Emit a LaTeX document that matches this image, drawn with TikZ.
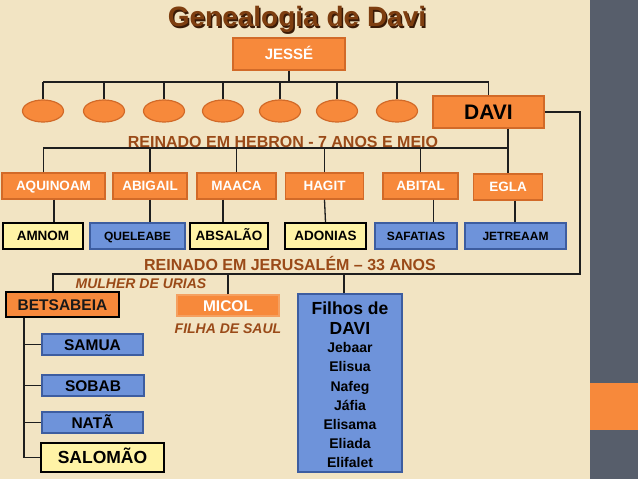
\documentclass[tikz,border=0pt]{standalone}
\usepackage{fontspec}
\setmainfont{Liberation Sans}
\usetikzlibrary{shapes.geometric}
\definecolor{bg}{HTML}{F2E4C3}
\definecolor{panel}{HTML}{575E6B}
\definecolor{orf}{HTML}{F7893B}
\definecolor{ord}{HTML}{D26A28}
\definecolor{orl}{HTML}{F5A060}
\definecolor{blf}{HTML}{6E93DA}
\definecolor{bld}{HTML}{3D5DA0}
\definecolor{ylf}{HTML}{FFF3A6}
\definecolor{brn}{HTML}{9A4A18}
\definecolor{ttl}{HTML}{7E3E10}
\definecolor{ttls}{HTML}{3A1A06}
\definecolor{ln}{HTML}{1E1E1E}
\tikzset{
  conn/.style={draw=ln, line width=1.3pt},
  bx/.style={rectangle, inner sep=0pt, text depth=0pt, line width=1.2pt},
  orbox/.style={bx, fill=orf, draw=ord, text=white},
  blbox/.style={bx, fill=blf, draw=bld, text=black},
  ylbox/.style={bx, fill=ylf, draw=black, line width=1.6pt, text=black},
  oval/.style={ellipse, fill=orf, draw=ord, line width=1.2pt, minimum width=41pt, minimum height=22pt, inner sep=0pt},
  fA/.style={font=\fontsize{13.5}{14}\selectfont\bfseries, text height=9.7pt},
  fB/.style={font=\fontsize{12}{13}\selectfont\bfseries, text height=8.6pt},
  fC/.style={font=\fontsize{15.5}{16}\selectfont\bfseries, text height=11.1pt},
  fD/.style={font=\fontsize{17.5}{18}\selectfont\bfseries, text height=12.5pt},
  lbl/.style={anchor=base, inner sep=0pt, text=brn, font=\fontsize{16}{16}\selectfont\bfseries},
  ilbl/.style={anchor=base, inner sep=0pt, text=brn, font=\fontsize{14}{14}\selectfont\bfseries\itshape},
  nm/.style={anchor=base, inner sep=0pt, text=black, font=\fontsize{14}{14}\selectfont\bfseries},
}
\begin{document}
\begin{tikzpicture}[x=1pt, y=-1pt]
\useasboundingbox (0,0) rectangle (638,479);
\fill[bg] (0,0) rectangle (638,479);
\fill[panel] (590,0) rectangle (638,479);
\fill[orf] (590,383) rectangle (638,430);

% title
\node[text=ttls, font=\fontsize{28}{28}\selectfont\bfseries, anchor=base, inner sep=0pt] (titles) at (298.5,28.5) {Genealogia de Davi};
\node[text=ttl, font=\fontsize{28}{28}\selectfont\bfseries, anchor=base, inner sep=0pt] (title) at (297,27) {Genealogia de Davi};

% Jesse and sons
\node[orbox, minimum width=112pt, minimum height=32pt, font=\fontsize{15}{15}\selectfont\bfseries, text height=10.7pt] (jesse) at (289,54) {JESSÉ};
\foreach \i/\x in {1/43,2/104,3/164,4/223,5/280,6/337,7/397}{
  \node[oval] (e\i) at (\x,111) {};
}
\node[orbox, minimum width=111pt, minimum height=32pt, font=\fontsize{21}{21}\selectfont\bfseries, text height=15pt, text=black] (davi) at (488.5,112) {DAVI};
\coordinate (jbar) at (289,82);
\draw[conn] (jesse.south) -- (jbar);
\draw[conn] (e1.north |- jbar) -- (davi.north |- jbar);
\foreach \i in {1,...,7}{\draw[conn] (e\i.north) -- (e\i.north |- jbar);}
\draw[conn] (davi.north) -- (davi.north |- jbar);

% wives (Hebron)
\node[orbox, fA, minimum width=103pt, minimum height=26pt] (aquinoam) at (53.5,186) {AQUINOAM};
\node[orbox, fA, minimum width=74pt, minimum height=26pt] (abigail) at (150,186) {ABIGAIL};
\node[orbox, fA, minimum width=79pt, minimum height=26pt] (maaca) at (236.5,186) {MAACA};
\node[orbox, fA, minimum width=78pt, minimum height=26pt] (hagit) at (324.5,186) {HAGIT};
\node[orbox, fA, minimum width=75pt, minimum height=26pt] (abital) at (420.5,186) {ABITAL};
\node[orbox, fA, minimum width=69pt, minimum height=26pt] (egla) at (508,187) {EGLA};

\coordinate (dv) at (508,148);
\coordinate (xa) at (43.5,0);
\draw[conn] (davi.south -| dv) -- (egla.north -| dv);
\draw[conn] (aquinoam.north -| xa) -- (xa |- dv) -- (dv);
\foreach \w in {abigail,maaca,hagit,abital}{\draw[conn] (\w.north) -- (\w.north |- dv);}

\node[lbl] (hebron) at (283,147.5) {REINADO EM HEBRON - 7 ANOS E MEIO};

% children (Hebron)
\node[ylbox, fA, minimum width=80pt, minimum height=26pt] (amnom) at (43,236) {AMNOM};
\node[blbox, fB, minimum width=95pt, minimum height=26pt] (queleabe) at (137.5,236) {QUELEABE};
\node[ylbox, fA, minimum width=78pt, minimum height=26pt] (absalao) at (229,236) {ABSALÃO};
\node[ylbox, fA, minimum width=81pt, minimum height=26pt] (adonias) at (325.5,236) {ADONIAS};
\node[blbox, fB, minimum width=82pt, minimum height=26pt] (safatias) at (416,236) {SAFATIAS};
\node[blbox, fB, minimum width=101pt, minimum height=26pt] (jetreaam) at (515.5,236) {JETREAAM};

\coordinate (xc1) at (54,0);
\coordinate (xc3) at (223,0);
\coordinate (xc5) at (433.5,0);
\coordinate (xc6) at (515,0);
\draw[conn] (aquinoam.south -| xc1) -- (amnom.north -| xc1);
\draw[conn] (abigail.south) -- (abigail.south |- queleabe.north);
\draw[conn] (maaca.south -| xc3) -- (absalao.north -| xc3);
\draw[conn] (hagit.south) -- (adonias.north);
\draw[conn] (abital.south -| xc5) -- (safatias.north -| xc5);
\draw[conn] (egla.south -| xc6) -- (jetreaam.north -| xc6);

% Jerusalem
\node[lbl] (jerus) at (290,270) {REINADO EM JERUSALÉM – 33 ANOS};
\node[ilbl] (mulher) at (141,288) {MULHER DE URIAS};

\node[bx, fill=orf, draw=black, line width=1.6pt, text=black!90, fC, minimum width=113pt, minimum height=25pt] (betsabeia) at (62.5,304.5) {BETSABEIA};
\node[bx, fill=orf, draw=orl, text=white, fC, minimum width=102pt, minimum height=21pt] (micol) at (228,305.5) {MICOL};
\node[ilbl] (filha) at (228,333.5) {FILHA DE SAUL};
\node[blbox, minimum width=104pt, minimum height=178pt] (filhos) at (350,383) {};

\coordinate (r1) at (580,274);
\coordinate (xb) at (53,0);
\coordinate (xf) at (344,0);
\draw[conn] (davi.east) -| (r1) -| (betsabeia.north -| xb);
\draw[conn] (micol.north) -- (micol.north |- r1);
\draw[conn] (filhos.north -| xf) -- (xf |- r1);

% Filhos de Davi text
\node[anchor=base, inner sep=0pt, font=\fontsize{17.5}{18}\selectfont\bfseries] (ft1) at (350,314.5) {Filhos de};
\node[anchor=base, inner sep=0pt, font=\fontsize{17.5}{18}\selectfont\bfseries] (ft2) at (350,334.5) {DAVI};
\node[nm] (n1) at (350,352.5) {Jebaar};
\node[nm] (n2) at (350,371.5) {Elisua};
\node[nm] (n3) at (350,391) {Nafeg};
\node[nm] (n4) at (350,410) {Jáfia};
\node[nm] (n5) at (350,429) {Elisama};
\node[nm] (n6) at (350,448) {Eliada};
\node[nm] (n7) at (350,467) {Elifalet};

% Betsabeia's sons
\node[blbox, fC, minimum width=101pt, minimum height=21pt] (samua) at (92.5,344.5) {SAMUA};
\node[blbox, fC, minimum width=102pt, minimum height=21pt] (sobab) at (93,385.5) {SOBAB};
\node[blbox, fC, minimum width=101pt, minimum height=21pt] (nata) at (92.5,422.5) {NATÃ};
\node[ylbox, fD, minimum width=123pt, minimum height=29pt] (salomao) at (102.5,457.5) {SALOMÃO};

\coordinate (xs) at (24,0);
\draw[conn] (betsabeia.south -| xs) -- (salomao.west -| xs) -- (salomao.west);
\foreach \s in {samua,sobab,nata}{\draw[conn] (\s.west -| xs) -- (\s.west);}
\end{tikzpicture}
\end{document}
